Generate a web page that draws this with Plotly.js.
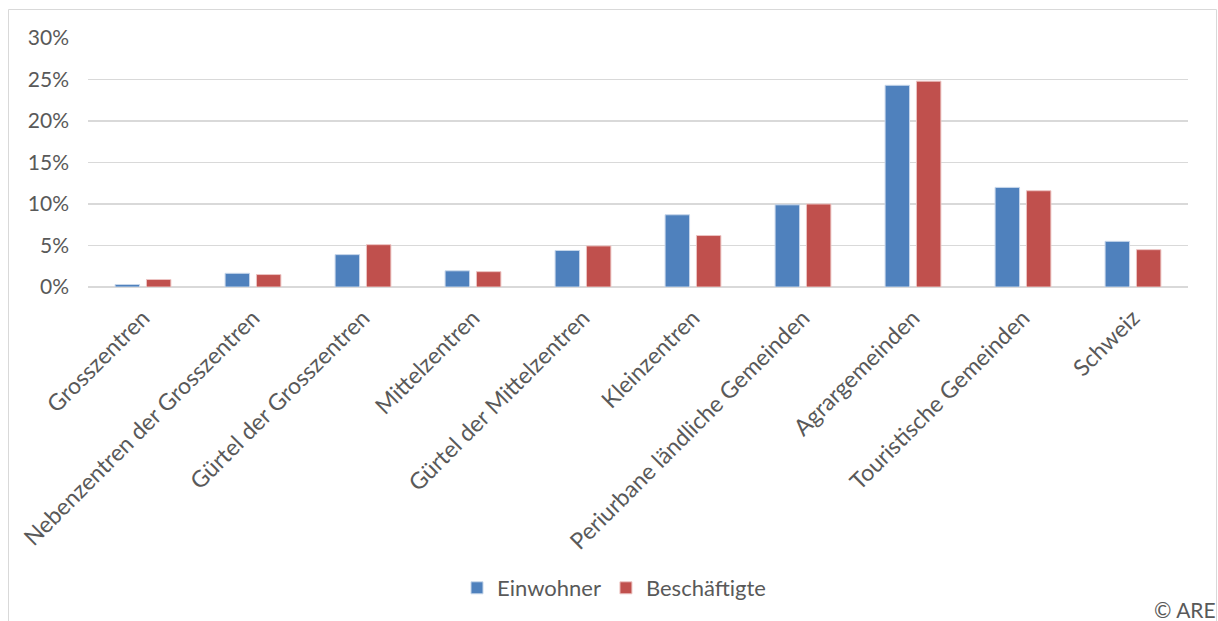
<!DOCTYPE html>
<html>
<head>
<meta charset="utf-8">
<script src="https://cdn.plot.ly/plotly-3.0.1.min.js"></script>
<style>
  html, body { margin: 0; padding: 0; background: #ffffff; }
  #chart { width: 1218px; height: 621px; }
</style>
</head>
<body>
<div id="chart"></div>
<script>
// Raumtypen (Kategorien)
const categories = [
  'Grosszentren',
  'Nebenzentren der Grosszentren',
  'Gürtel der Grosszentren',
  'Mittelzentren',
  'Gürtel der Mittelzentren',
  'Kleinzentren',
  'Periurbane ländliche Gemeinden',
  'Agrargemeinden',
  'Touristische Gemeinden',
  'Schweiz'
];

// Anteile in Prozent
const einwohner = [0.3, 1.65, 3.9, 1.95, 4.4, 8.7, 9.9, 24.3, 12.0, 5.5];
const beschaeftigte = [0.9, 1.5, 5.1, 1.85, 4.95, 6.2, 10.0, 24.8, 11.6, 4.5];

const seriesNames = ['Einwohner', 'Beschäftigte'];
const yTickValues = [0, 5, 10, 15, 20, 25, 30];
const yTickLabels = ['0%', '5%', '10%', '15%', '20%', '25%', '30%'];

const FONT = 'Lato, "Open Sans", sans-serif';
const TEXT = '#595959';
const GRID = '#d9d9d9';

const traces = [
  {
    type: 'bar',
    name: seriesNames[0],
    x: categories,
    y: einwohner,
    marker: { color: '#4f81bd', line: { color: '#c6d6ea', width: 1 } },
    hoverinfo: 'x+y+name'
  },
  {
    type: 'bar',
    name: seriesNames[1],
    x: categories,
    y: beschaeftigte,
    marker: { color: '#c0504d', line: { color: '#ecc4c3', width: 1 } },
    hoverinfo: 'x+y+name'
  }
];

// plot area: x 88..1188 px, y 38..287 px
const L = 88, R = 30, T = 38, B = 334;
const PW = 1218 - L - R, PH = 621 - T - B;
const px = v => (v - L) / PW;
const py = v => (621 - B - v) / PH;

const layout = {
  width: 1218,
  height: 621,
  margin: { l: L, r: R, t: T, b: B, pad: 0 },
  paper_bgcolor: '#ffffff',
  plot_bgcolor: '#ffffff',
  font: { family: FONT, size: 21, color: TEXT },
  barmode: 'group',
  bargap: 0.43,
  bargroupgap: 0.22,
  showlegend: true,
  legend: {
    orientation: 'h',
    x: px(614),
    xanchor: 'center',
    y: py(588),
    yanchor: 'middle',
    font: { family: FONT, size: 22, color: TEXT },
    itemwidth: 30,
    traceorder: 'normal',
    bgcolor: 'rgba(0,0,0,0)'
  },
  xaxis: {
    type: 'category',
    tickangle: -45,
    showgrid: false,
    showline: false,
    zeroline: false,
    ticks: '',
    ticklabelstandoff: 12,
    tickfont: { family: FONT, size: 23, color: TEXT },
    automargin: false,
    fixedrange: true
  },
  yaxis: {
    range: [0, 30],
    tickvals: yTickValues,
    ticktext: yTickLabels,
    showgrid: true,
    gridcolor: GRID,
    gridwidth: 1.5,
    zeroline: true,
    zerolinecolor: GRID,
    zerolinewidth: 1.5,
    showline: false,
    ticks: '',
    ticklabelstandoff: 18,
    tickfont: { family: FONT, size: 21, color: TEXT },
    automargin: false,
    fixedrange: true
  },
  shapes: [
    {
      type: 'path',
      xref: 'paper', yref: 'paper',
      path: `M ${px(8.5)} ${py(640)} L ${px(8.5)} ${py(9.5)} L ${px(1216.5)} ${py(9.5)} L ${px(1216.5)} ${py(640)}`,
      line: { color: GRID, width: 1 }
    }
  ],
  annotations: [
    {
      text: '© ARE',
      xref: 'paper', yref: 'paper',
      x: px(1218), xanchor: 'right',
      y: py(609), yanchor: 'middle',
      showarrow: false,
      font: { family: FONT, size: 21, color: TEXT }
    }
  ]
};

Plotly.newPlot('chart', traces, layout, { displayModeBar: false, staticPlot: true });
</script>
</body>
</html>
